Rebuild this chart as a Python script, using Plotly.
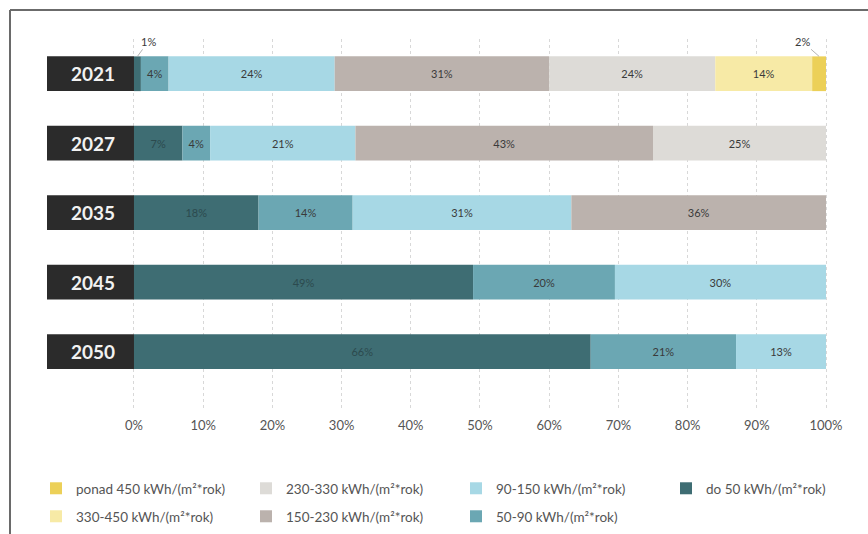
import plotly.graph_objects as go

years = ["2021", "2027", "2035", "2045", "2050"]
series_names = [
    "do 50 kWh/(m²*rok)",
    "50-90 kWh/(m²*rok)",
    "90-150 kWh/(m²*rok)",
    "150-230 kWh/(m²*rok)",
    "230-330 kWh/(m²*rok)",
    "330-450 kWh/(m²*rok)",
    "ponad 450 kWh/(m²*rok)",
]
# segment widths (share of buildings, %) per year
do50 = [1, 7, 18, 49, 66]
s50_90 = [4, 4, 13.6, 20.5, 21]
s90_150 = [24, 21, 31.6, 30.5, 13]
s150_230 = [31, 43, 36.8, 0, 0]
s230_330 = [24, 25, 0, 0, 0]
s330_450 = [14, 0, 0, 0, 0]
ponad450 = [2, 0, 0, 0, 0]
# printed labels
lab_do50 = ["", "7%", "18%", "49%", "66%"]
lab_50_90 = ["4%", "4%", "14%", "20%", "21%"]
lab_90_150 = ["24%", "21%", "31%", "30%", "13%"]
lab_150_230 = ["31%", "43%", "36%", "", ""]
lab_230_330 = ["24%", "25%", "", "", ""]
lab_330_450 = ["14%", "", "", "", ""]
lab_ponad450 = ["", "", "", "", ""]
tick_vals = [0, 10, 20, 30, 40, 50, 60, 70, 80, 90, 100]
tick_text = ["0%", "10%", "20%", "30%", "40%", "50%", "60%", "70%", "80%", "90%", "100%"]

colors = ["#3e6d73", "#6ba7b3", "#a7d8e5", "#bbb2ad", "#dddbd7", "#f7eaa6", "#ecd058"]
values = [do50, s50_90, s90_150, s150_230, s230_330, s330_450, ponad450]
labels = [lab_do50, lab_50_90, lab_90_150, lab_150_230, lab_230_330, lab_330_450, lab_ponad450]
# legend placement: row 1 -> legend (+ legend3 for 4th column), row 2 -> legend2
legend_of = ["legend3", "legend2", "legend", "legend2", "legend", "legend2", "legend"]
rank_of = [1, 3, 3, 2, 2, 1, 1]

FONT = "Lato, 'Open Sans', sans-serif"
ypos = list(range(len(years)))
BOX = 12.57

fig = go.Figure()
# dark year boxes on the left
fig.add_trace(go.Bar(
    y=ypos, x=[-BOX] * len(years), orientation="h",
    marker=dict(color="#2b2b2b", line=dict(width=0)),
    showlegend=False, hoverinfo="skip",
))
for i, name in enumerate(series_names):
    fig.add_trace(go.Bar(
        y=ypos, x=values[i], orientation="h", name=name,
        marker=dict(color=colors[i], line=dict(width=0)),
        text=labels[i], texttemplate="%{text}", textposition="inside",
        insidetextanchor="middle", textangle=0, constraintext="none",
        insidetextfont=dict(family=FONT, size=11, color="#2c4a4e" if i == 0 else "#3a3a3a"),
        legend=legend_of[i], legendrank=rank_of[i],
        hoverinfo="skip",
    ))

annotations = []
for i, y in enumerate(years):
    annotations.append(dict(
        x=-2.5, y=i, xref="x", yref="y", text="<b>" + y + "</b>",
        showarrow=False, xanchor="right", yanchor="middle",
        font=dict(family=FONT, size=19, color="#f2f2f2"),
    ))
# small-segment callouts for 2021
annotations.append(dict(
    x=do50[0] / 2, y=-0.25, xref="x", yref="y", text="1%", showarrow=True,
    arrowhead=0, arrowwidth=0.8, arrowcolor="#a0a0a0", ax=11, ay=-15,
    standoff=0, font=dict(family=FONT, size=11, color="#3a3a3a"),
))
annotations.append(dict(
    x=100 - ponad450[0] / 2, y=-0.25, xref="x", yref="y", text="2%", showarrow=True,
    arrowhead=0, arrowwidth=0.8, arrowcolor="#a0a0a0", ax=-17, ay=-15,
    standoff=0, font=dict(family=FONT, size=11, color="#3a3a3a"),
))

W, H = 868, 534
L, R, T, B = 47, 22, 39, 124
pw = W - L - R
ph = H - T - B
shapes = [
    dict(type="line", xref="paper", yref="paper",
         x0=(10 - L) / pw, x1=(W - L) / pw, y0=1 + (T - 10) / ph, y1=1 + (T - 10) / ph,
         line=dict(color="#3a3a3a", width=1.5)),
    dict(type="line", xref="paper", yref="paper",
         x0=(10 - L) / pw, x1=(10 - L) / pw, y0=1 + (T - 10) / ph, y1=-(B) / ph,
         line=dict(color="#6a6a6a", width=2)),
]

px_per = 779 / (100 + BOX)
xmax = 100 + (W - R - 826) / px_per

legend_common = dict(
    orientation="h", xanchor="left", yanchor="top",
    entrywidth=165, entrywidthmode="pixels", traceorder="normal",
    font=dict(family=FONT, size=13.5, color="#555555"), bgcolor="rgba(0,0,0,0)",
)
row1_y = -(473 - (T + ph)) / ph
row2_y = -(501 - (T + ph)) / ph

fig.update_layout(
    width=W, height=H,
    margin=dict(l=L, r=R, t=T, b=B, pad=0, autoexpand=False),
    paper_bgcolor="white", plot_bgcolor="white",
    barmode="relative", bargap=0.5,
    font=dict(family=FONT, color="#555555"),
    xaxis=dict(
        range=[-BOX, xmax], tickvals=tick_vals, ticktext=tick_text,
        showgrid=True, gridcolor="#d8d8d8", griddash="dot", gridwidth=1,
        zeroline=False, showline=False, ticks="", ticklabelstandoff=6,
        tickfont=dict(family=FONT, size=13, color="#555555"),
    ),
    yaxis=dict(
        range=[4.84, -0.5], showticklabels=False, showgrid=False,
        zeroline=False, showline=False, ticks="",
    ),
    legend=dict(legend_common, x=(36 - L) / pw, y=row1_y),
    legend2=dict(legend_common, x=(36 - L) / pw, y=row2_y),
    legend3=dict(legend_common, x=(666 - L) / pw, y=row1_y),
    annotations=annotations, shapes=shapes,
)

fig.write_html("out.html")
